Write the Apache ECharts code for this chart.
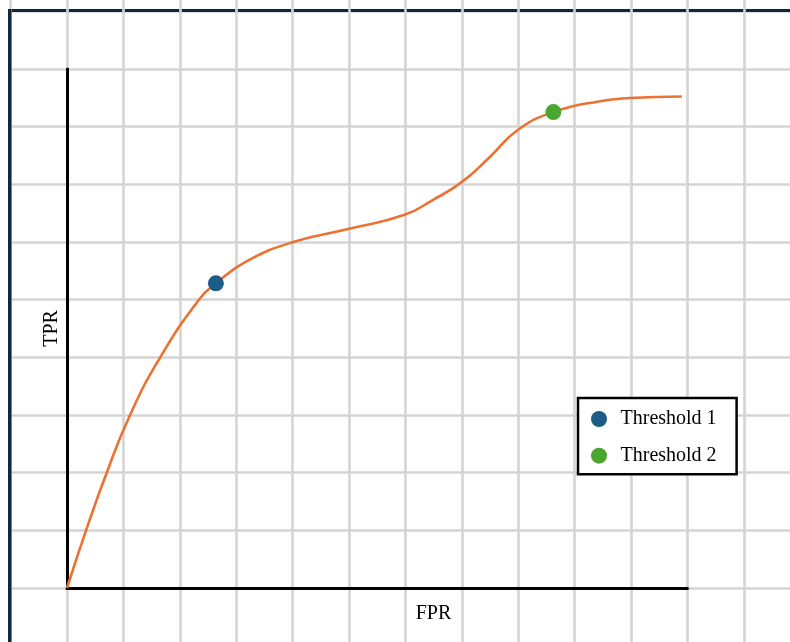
<!DOCTYPE html>
<html>
<head>
<meta charset="utf-8">
<style>
  html, body { margin: 0; padding: 0; background: #ffffff; }
  #chart { width: 790px; height: 642px; }
</style>
<script src="https://cdn.jsdelivr.net/npm/echarts@6/dist/echarts.min.js"></script>
</head>
<body>
<div id="chart"></div>
<script>
// ROC curve samples (FPR, TPR)
const fpr = [0, 0.031, 0.064, 0.1015, 0.150, 0.213, 0.240, 0.290, 0.366, 0.455, 0.544, 0.590, 0.635, 0.682, 0.726, 0.784, 0.859, 0.907, 0.991];
const tpr = [0, 0.112, 0.222, 0.333, 0.444, 0.556, 0.587, 0.630, 0.667, 0.692, 0.719, 0.748, 0.781, 0.831, 0.882, 0.917, 0.938, 0.944, 0.947];
// Threshold points
const thresholdNames = ['Threshold 1', 'Threshold 2'];
const thresholdFpr = [0.240, 0.784];
const thresholdTpr = [0.587, 0.917];
const thresholdColors = ['#1b5d87', '#4ba62f'];
// Axis titles
const xTitle = 'FPR';
const yTitle = 'TPR';

const serif = "'Liberation Serif', 'Times New Roman', serif";
const gridGray = '#d4d4d4';
const frameColor = '#10283c';

const curve = fpr.map((x, i) => [x, tpr[i]]);

const chart = echarts.init(document.getElementById('chart'), null, { renderer: 'canvas' });

const hidden = { show: false };

const option = {
  backgroundColor: '#ffffff',
  animation: false,
  grid: [
    { // background squared paper
      left: 10.6, top: -10.7, width: 846, height: 656.4,
      outerBoundsMode: 'none', containLabel: false, show: false
    },
    { // plotting area
      left: 67, top: 69, width: 620.4, height: 519,
      outerBoundsMode: 'none', containLabel: false, show: false
    },
    { // carrier for the horizontal axis title
      left: 67, top: 69, width: 733, height: 519,
      outerBoundsMode: 'none', containLabel: false, show: false
    }
  ],
  xAxis: [
    {
      gridIndex: 0, type: 'value', min: -1, max: 14, interval: 1, z: 2,
      axisLine: hidden, axisTick: hidden, axisLabel: hidden,
      splitLine: { show: true, lineStyle: { color: gridGray, width: 2.6 } }
    },
    {
      gridIndex: 1, type: 'value', min: 0, max: 1, z: 4,
      axisLine: { show: true, onZero: false, lineStyle: { color: '#000', width: 3 } },
      axisTick: hidden, axisLabel: hidden, splitLine: hidden
    },
    {
      gridIndex: 2, type: 'value', min: 0, max: 1, z: 4, position: 'bottom',
      axisLine: { show: true, onZero: false, lineStyle: { color: '#000', width: 0, opacity: 0 } },
      axisTick: hidden, axisLabel: hidden, splitLine: hidden,
      name: xTitle, nameLocation: 'middle', nameGap: 16,
      nameTextStyle: { fontFamily: serif, fontSize: 20, color: '#000', lineHeight: 20 }
    }
  ],
  yAxis: [
    {
      gridIndex: 0, type: 'value', min: -1, max: 10.381, interval: 1, z: 0,
      axisLine: hidden, axisTick: hidden, axisLabel: hidden,
      splitLine: { show: true, lineStyle: { color: gridGray, width: 2.6 } }
    },
    {
      gridIndex: 1, type: 'value', min: 0, max: 1, z: 4,
      axisLine: { show: true, onZero: false, lineStyle: { color: '#000', width: 3 } },
      axisTick: hidden, axisLabel: hidden, splitLine: hidden,
      name: yTitle, nameLocation: 'middle', nameGap: 5,
      nameTextStyle: { fontFamily: serif, fontSize: 20, color: '#000', lineHeight: 20 }
    },
    {
      gridIndex: 2, type: 'value', min: 0, max: 1, show: false
    }
  ],
  legend: {
    show: true,
    data: thresholdNames,
    orient: 'vertical',
    left: 578, top: 398,
    padding: [10, 20, 7.5, 13],
    itemWidth: 33, itemHeight: 16, itemGap: 14.7,
    backgroundColor: '#ffffff',
    borderColor: '#000000', borderWidth: 2.5, borderRadius: 0,
    textStyle: { fontFamily: serif, fontSize: 20, color: '#000', lineHeight: 22 },
    z: 6
  },
  graphic: [
    { type: 'line', z: 1, silent: true,
      shape: { x1: 8, y1: 10.5, x2: 800, y2: 10.5 },
      style: { stroke: frameColor, lineWidth: 3 } },
    { type: 'line', z: 3, silent: true,
      shape: { x1: 9.75, y1: 9, x2: 9.75, y2: 700 },
      style: { stroke: frameColor, lineWidth: 3.5 } }
  ],
  series: [
    {
      name: 'ROC', type: 'line', xAxisIndex: 1, yAxisIndex: 1,
      data: curve, smooth: 0.5, showSymbol: false, z: 5,
      lineStyle: { color: '#eb7230', width: 2.6 },
      itemStyle: { color: '#eb7230' }
    },
    ...thresholdNames.map((n, i) => ({
      name: n, type: 'scatter', xAxisIndex: 1, yAxisIndex: 1,
      data: [[thresholdFpr[i], thresholdTpr[i]]],
      symbol: 'circle', symbolSize: 16, z: 6,
      itemStyle: { color: thresholdColors[i], opacity: 1 }
    }))
  ]
};

chart.setOption(option);
</script>
</body>
</html>
